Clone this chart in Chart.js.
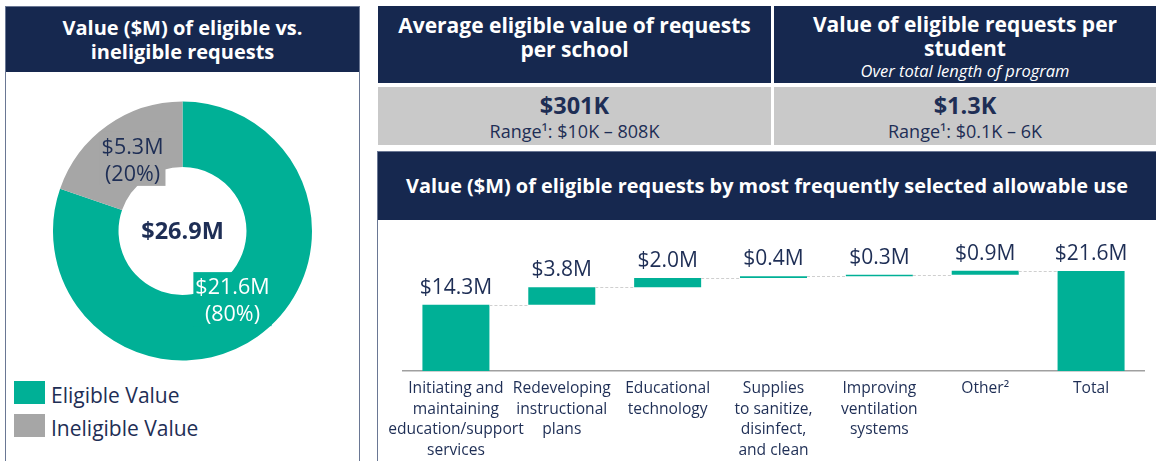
<!DOCTYPE html>
<html>
<head>
<meta charset="utf-8">
<script src="https://cdn.jsdelivr.net/npm/chart.js@4"></script>
<style>
    body { margin: 0; width: 1156px; height: 461px; background: #fff; font-family: 'Open Sans', sans-serif; color: #1e2e55; position: relative; overflow: hidden; }
    .abs { position: absolute; }
    .navy { background: #16284f; color: #fff; font-weight: 700; text-align: center; }
    .grey { background: #c9c9c9; text-align: center; }
    .big { font-weight: 700; font-size: 23.5px; line-height: 28px; }
    .range { font-size: 18px; line-height: 24px; }
    .legend-box { position: absolute; left: 14px; width: 31px; height: 23px; }
    .legend-text { position: absolute; left: 51px; font-size: 21px; line-height: 28px; }
</style>
</head>
<body>
    <!-- left panel -->
    <div class="abs" style="left:5px; top:6px; width:353px; height:470px; border:1px solid #6a7794;"></div>
    <div class="abs navy" style="left:6px; top:7px; width:353px; height:65px; font-size:20px; line-height:24px;">
        <div style="padding-top:9px;">Value ($M) of eligible vs.<br>ineligible requests</div>
    </div>
    <canvas id="splitChart" class="abs" style="left:6px; top:73px;" width="353" height="300"></canvas>
    <div class="legend-box" style="top:381px; background:#00b096;"></div>
    <div class="legend-text" style="top:381px;">Eligible Value</div>
    <div class="legend-box" style="top:414px; background:#a6a6a6;"></div>
    <div class="legend-text" style="top:414px;">Ineligible Value</div>

    <!-- KPI headers -->
    <div class="abs navy" style="left:378px; top:6px; width:393px; height:77px; font-size:21px; line-height:23.5px;">
        <div style="padding-top:8px;">Average eligible value of requests<br>per school</div>
    </div>
    <div class="abs navy" style="left:774px; top:6px; width:382px; height:77px; font-size:21px; line-height:23.5px;">
        <div style="padding-top:7px;">Value of eligible requests per<br>student</div>
        <div style="font-weight:400; font-style:italic; font-size:16.5px; line-height:22px;">Over total length of program</div>
    </div>
    <div class="abs grey" style="left:378px; top:87px; width:393px; height:58px;">
        <div class="big" style="padding-top:4px;">$301K</div>
        <div class="range">Range¹: $10K – 808K</div>
    </div>
    <div class="abs grey" style="left:774px; top:87px; width:382px; height:58px;">
        <div class="big" style="padding-top:4px;">$1.3K</div>
        <div class="range">Range¹: $0.1K – 6K</div>
    </div>

    <!-- waterfall panel -->
    <div class="abs" style="left:377px; top:151px; width:790px; height:320px; border:1px solid #6a7794;"></div>
    <div class="abs navy" style="left:378px; top:152px; width:778px; height:68px; font-size:19.9px; line-height:68px;">
        Value ($M) of eligible requests by most frequently selected allowable use
    </div>
    <canvas id="useChart" class="abs" style="left:378px; top:221px;" width="778" height="240"></canvas>

<script>
// Eligible vs ineligible split
const splitLabels = ['Eligible Value', 'Ineligible Value'];
const splitValues = [21.6, 5.3];
const splitPercents = [80, 20];
const splitTotalLabel = '$26.9M';

// Waterfall by allowable use
const useLabels = [
    ['Initiating and', 'maintaining', 'education/support', 'services'],
    ['Redeveloping', 'instructional', 'plans'],
    ['Educational', 'technology'],
    ['Supplies', 'to sanitize,', 'disinfect,', 'and clean'],
    ['Improving', 'ventilation', 'systems'],
    ['Other²'],
    ['Total']
];
const useValues = [14.3, 3.8, 2.0, 0.4, 0.3, 0.9];
const useTotal = 21.6;

const COLORS = {
    green: '#00b096',
    grey: '#a6a6a6',
    navy: '#1e2e55',
    axis: '#a0a0a0',
    connector: '#cfcfcf'
};
const FONT = "'Open Sans', sans-serif";

const fmtM = v => '$' + v.toFixed(1) + 'M';

// donut labels drawn in boxes filled with the slice colour
const sliceLabelPlugin = {
    id: 'sliceLabels',
    afterDatasetsDraw(chart) {
        const ctx = chart.ctx;
        const meta = chart.getDatasetMeta(0);
        ctx.save();
        ctx.font = `400 21.5px ${FONT}`;
        ctx.textAlign = 'center';
        ctx.textBaseline = 'middle';
        meta.data.forEach((arc, i) => {
            const mid = (arc.startAngle + arc.endAngle) / 2;
            const r = (arc.innerRadius + arc.outerRadius) / 2 * 0.89;
            const cx = arc.x + Math.cos(mid) * r;
            const cy = arc.y + Math.sin(mid) * r;
            const lines = [fmtM(splitValues[i]), `(${splitPercents[i]}%)`];
            const w = Math.max(...lines.map(l => ctx.measureText(l).width)) + 4;
            ctx.fillStyle = i === 0 ? COLORS.green : COLORS.grey;
            ctx.fillRect(cx - w / 2, cy - 29, w, 54);
            ctx.fillStyle = i === 0 ? '#ffffff' : COLORS.navy;
            ctx.fillText(lines[0], cx, cy - 13);
            ctx.fillText(lines[1], cx, cy + 14);
        });
        // centre total
        ctx.font = `700 23.5px ${FONT}`;
        ctx.fillStyle = COLORS.navy;
        const a = meta.data[0];
        ctx.fillText(splitTotalLabel, a.x, a.y + 1);
        ctx.restore();
    }
};

new Chart(document.getElementById('splitChart'), {
    type: 'doughnut',
    data: {
        labels: splitLabels,
        datasets: [{
            data: splitValues,
            backgroundColor: [COLORS.green, COLORS.grey],
            borderWidth: 0
        }]
    },
    options: {
        responsive: false,
        animation: false,
        cutout: '49.4%',
        layout: { padding: { left: 47, right: 47, top: 28.5, bottom: 12.5 } },
        plugins: { legend: { display: false }, tooltip: { enabled: false } }
    },
    plugins: [sliceLabelPlugin]
});

// build floating bars from the values
const floatBars = [];
let running = 0;
useValues.forEach(v => {
    floatBars.push([running, running + v]);
    running += v;
});
floatBars.push([0, useTotal]);
const barTexts = [...useValues, useTotal].map(fmtM);

const waterfallPlugin = {
    id: 'waterfallExtras',
    afterDatasetsDraw(chart) {
        const ctx = chart.ctx;
        const meta = chart.getDatasetMeta(0);
        const y = chart.scales.y;
        ctx.save();
        // dashed connectors
        ctx.strokeStyle = COLORS.connector;
        ctx.lineWidth = 1;
        ctx.setLineDash([3, 2]);
        for (let i = 0; i < meta.data.length - 1; i++) {
            const a = meta.data[i];
            const b = meta.data[i + 1];
            const py = Math.round(y.getPixelForValue(floatBars[i][1])) + 0.5;
            ctx.beginPath();
            ctx.moveTo(a.x + a.width / 2, py);
            ctx.lineTo(b.x - b.width / 2, py);
            ctx.stroke();
        }
        ctx.setLineDash([]);
        // value labels
        ctx.font = `400 21px ${FONT}`;
        ctx.fillStyle = COLORS.navy;
        ctx.textAlign = 'center';
        ctx.textBaseline = 'middle';
        meta.data.forEach((bar, i) => {
            const top = y.getPixelForValue(floatBars[i][1]);
            ctx.fillText(barTexts[i], bar.x, top - 17);
        });
        ctx.restore();
    }
};

new Chart(document.getElementById('useChart'), {
    type: 'bar',
    data: {
        labels: useLabels,
        datasets: [{
            data: floatBars,
            backgroundColor: COLORS.green,
            borderWidth: 0,
            borderSkipped: false,
            categoryPercentage: 1,
            barPercentage: 0.633
        }]
    },
    options: {
        responsive: false,
        animation: false,
        layout: { padding: { left: 25, right: 12, top: 39, bottom: 0 } },
        plugins: { legend: { display: false }, tooltip: { enabled: false } },
        scales: {
            x: {
                grid: { display: false, drawTicks: false },
                border: { display: true, color: COLORS.axis, width: 1.5 },
                ticks: {
                    color: COLORS.navy,
                    font: { family: FONT, size: 15.6, lineHeight: 1.33 },
                    padding: 7,
                    autoSkip: false,
                    maxRotation: 0
                },
                afterFit(scale) { scale.height = 90; }
            },
            y: { display: false, min: 0, max: 24 }
        }
    },
    plugins: [waterfallPlugin]
});
</script>
</body>
</html>
